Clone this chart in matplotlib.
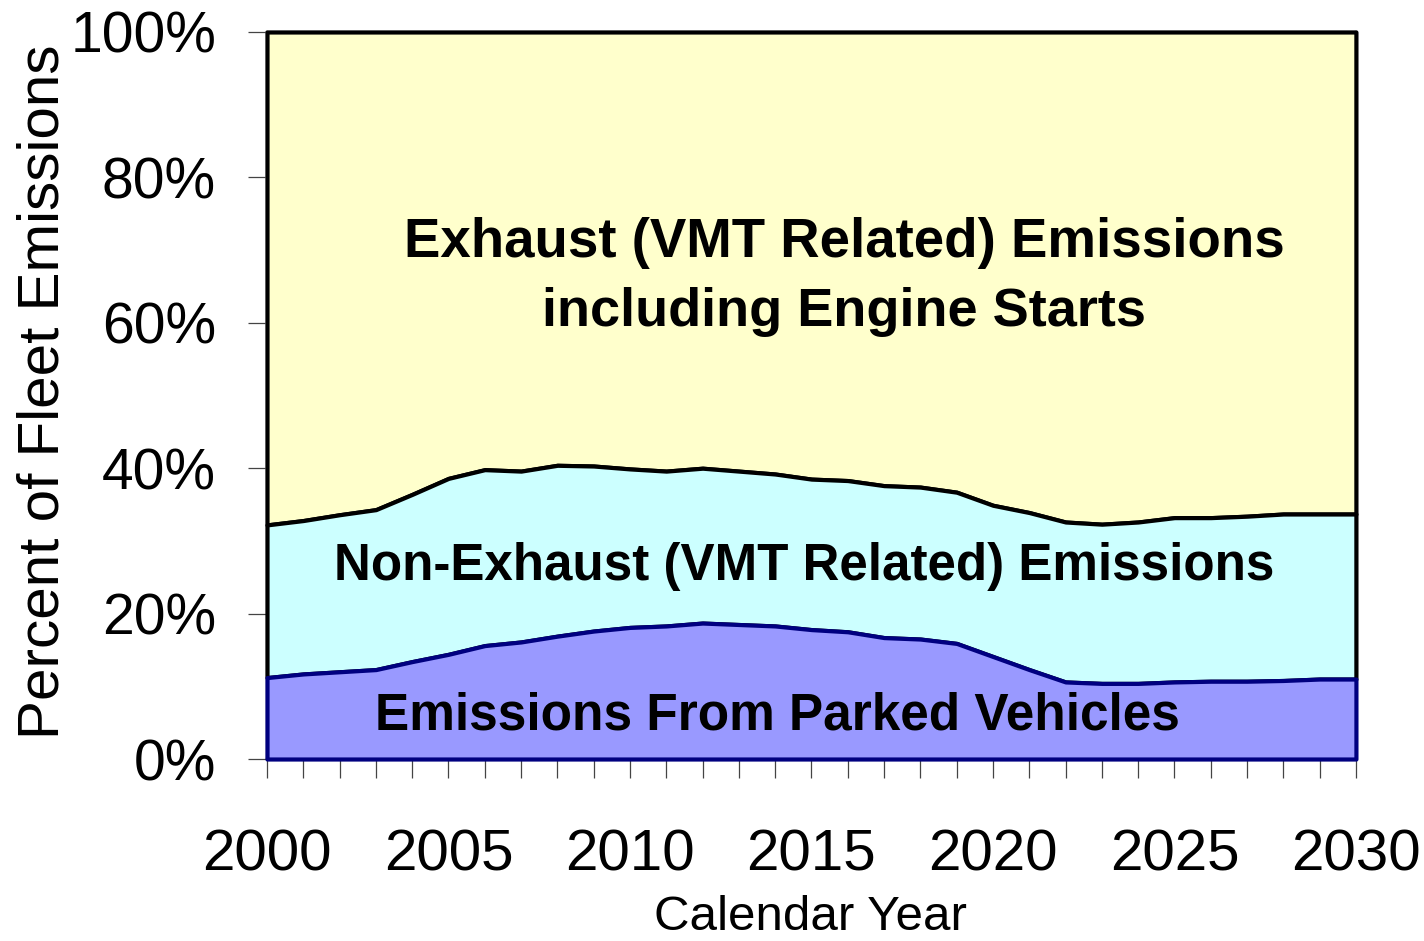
import numpy as np
from matplotlib import pyplot as plt
from matplotlib.ticker import MultipleLocator, FuncFormatter

plt.rcParams['font.family'] = ['Liberation Sans', 'DejaVu Sans']

years = list(range(2000, 2031))

# percent of fleet emissions
parked = [11.2, 11.7, 12.0, 12.3, 13.4, 14.4, 15.6, 16.1, 16.9, 17.6, 18.1,
          18.3, 18.7, 18.5, 18.3, 17.8, 17.5, 16.7, 16.5, 15.9, 14.1,
          12.3, 10.6, 10.4, 10.4, 10.6, 10.7, 10.7, 10.8, 11.0, 11.0]
non_exhaust = [21.0, 21.1, 21.6, 22.0, 23.0, 24.2, 24.2, 23.5, 23.5, 22.7, 21.8,
               21.3, 21.3, 21.1, 20.9, 20.7, 20.8, 20.9, 20.9, 20.8, 20.8,
               21.6, 22.0, 21.9, 22.2, 22.6, 22.5, 22.7, 22.9, 22.7, 22.7]
exhaust = [67.8, 67.2, 66.4, 65.7, 63.6, 61.4, 60.2, 60.4, 59.6, 59.7, 60.1,
           60.4, 60.0, 60.4, 60.8, 61.5, 61.7, 62.4, 62.6, 63.3, 65.1,
           66.1, 67.4, 67.7, 67.4, 66.8, 66.8, 66.6, 66.3, 66.3, 66.3]

labels = ["Emissions From Parked Vehicles",
          "Non-Exhaust (VMT Related) Emissions",
          "Exhaust (VMT Related) Emissions",
          "including Engine Starts"]

fig = plt.figure(figsize=(14.24, 9.41), dpi=100)
ax = fig.add_axes([0.1875, 0.1934, 0.7647, 0.7726])

polys = ax.stackplot(years, parked, non_exhaust, exhaust,
                     colors=['#9999FF', '#CCFFFF', '#FFFFCC'],
                     edgecolor='black', linewidth=3)
polys[0].set_edgecolor('#000080')
polys[0].set_zorder(3)
polys[1].set_zorder(2)
polys[2].set_zorder(1)
for p in polys:
    p.set_clip_on(False)

ax.set_xlim(2000, 2030)
ax.set_ylim(0, 100)

ax.xaxis.set_major_locator(MultipleLocator(5))
ax.xaxis.set_minor_locator(MultipleLocator(1))
ax.yaxis.set_major_locator(MultipleLocator(20))
ax.yaxis.set_major_formatter(FuncFormatter(lambda v, p: f"{v:.0f}%"))

ax.tick_params(axis='x', which='both', direction='out', length=13.7, width=0.9,
               color='#444444', pad=36, labelsize=42)
ax.tick_params(axis='y', which='major', direction='out', length=13.7, width=0.9,
               color='#444444', pad=23, labelsize=41)
for s in ax.spines.values():
    s.set_linewidth(1.6)
    s.set_color('black')

# category labels inside the areas
ax.text(2015.9, 69.0, labels[2], ha='center', va='baseline',
        fontsize=39.3, fontweight='bold', zorder=5)
ax.text(2015.9, 59.5, labels[3], ha='center', va='baseline',
        fontsize=39.0, fontweight='bold', zorder=5)
ax.text(2014.8, 24.6, labels[1], ha='center', va='baseline',
        fontsize=36.8, fontweight='bold', zorder=5)
ax.text(2014.05, 4.0, labels[0], ha='center', va='baseline',
        fontsize=37.0, fontweight='bold', zorder=5)

fig.text(44 / 1424, 1 - 392 / 941, "Percent of Fleet Emissions", rotation=90,
         ha='center', va='center', fontsize=42)
fig.text(810 / 1424, 1 - 918 / 941, "Calendar Year", ha='center', va='center',
         fontsize=35.5)

fig.savefig("out.png", dpi=100)
